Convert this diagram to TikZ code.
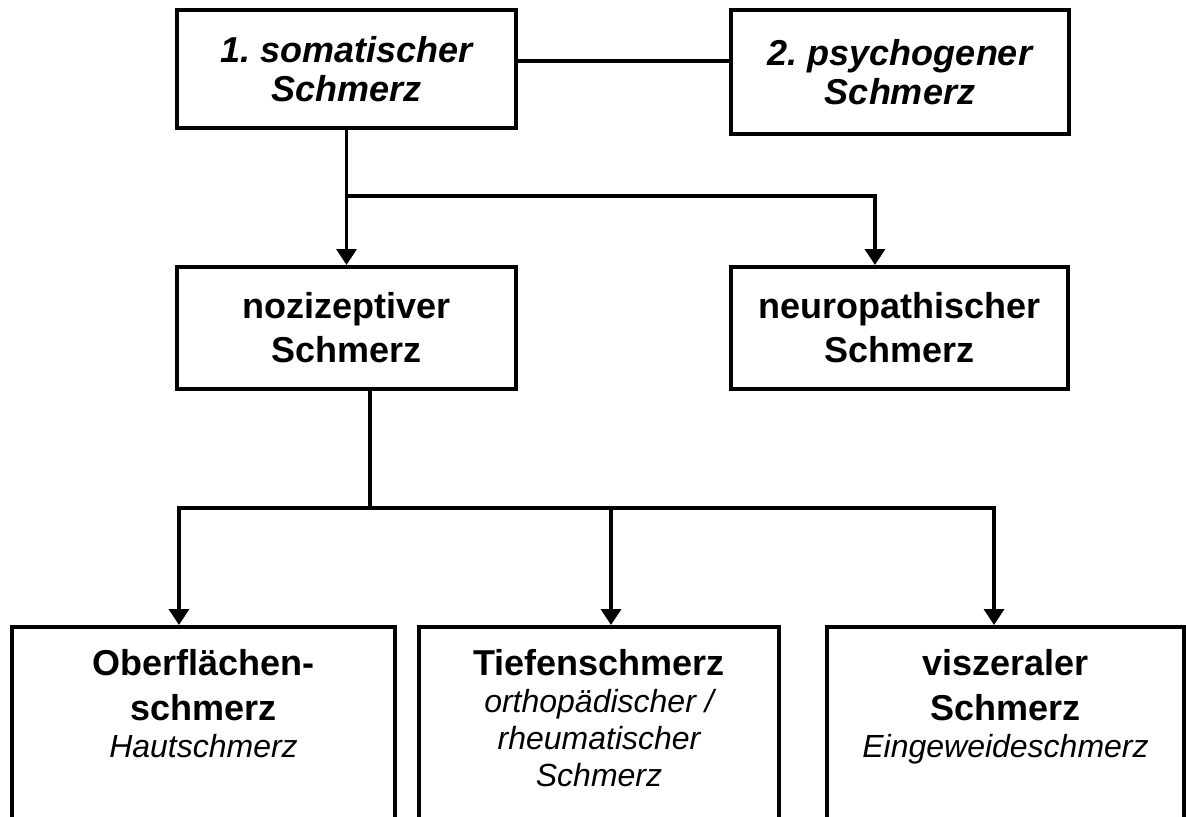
\documentclass[tikz,border=0pt]{standalone}
\usepackage{fontspec}
\setmainfont{Liberation Sans}
\usetikzlibrary{arrows.meta, positioning}
\frenchspacing

\newcommand{\untertext}[2]{\parbox[t][190pt][t]{250pt}{\centering
  \fontsize{27}{33.75}\selectfont\bfseries #1\par
  \fontsize{24}{27.75}\selectfont\mdseries\itshape #2\par}}

\begin{document}
\begin{tikzpicture}[x=0.75pt, y=-0.75pt, >={Triangle[length=12pt,width=15pt]},
    kasten/.style={draw, line width=3pt, align=center, inner sep=0pt,
        minimum width=254pt, minimum height=91.5pt,
        font=\fontsize{27}{33}\selectfont\bfseries},
    oben/.style={kasten, font=\fontsize{27}{29.25}\selectfont\bfseries\itshape},
    unten/.style={draw, line width=3pt, anchor=north, inner xsep=0pt, inner ysep=16.5pt},
    linie/.style={line width=2.6pt},
    pfeil/.style={linie, ->}]

    % Rahmen
    \useasboundingbox (0,0) rectangle (1186,817);
    \clip (0,0) rectangle (1186,817);

    % Schmerzarten
    \node[oben, minimum height=88.5pt] (soma) at (346.5,69) {1. somatischer\\Schmerz};
    \node[oben, minimum width=253.5pt, minimum height=93pt] (psych) at (900,72) {2. psychogener\\Schmerz};

    \node[kasten] (nozi) at (346.5,328) {nozizeptiver\\Schmerz};
    \node[kasten, minimum width=253pt] (neuro) at (899.5,328) {neuropathischer\\Schmerz};

    % untere Reihe, unten offen
    \node[unten, minimum width=287.25pt] (ober) at (203.5,625) {\untertext{Oberfl\"achen-\\schmerz}{Hautschmerz}};
    \node[unten, minimum width=270pt] (tief) at (599,625) {\untertext{Tiefenschmerz}{orthop\"adischer /\\rheumatischer\\Schmerz}};
    \node[unten, minimum width=267.75pt] (visz) at (1005.5,625) {\untertext{viszeraler\\Schmerz}{Eingeweideschmerz}};

    % Verbindungen
    \coordinate (mitte) at (620,61);
    \draw[linie] (soma.east |- mitte) -- (psych.west |- mitte);

    \coordinate (ast1) at (346.5,196);
    \draw[pfeil] (soma.south) -- (nozi.north);
    \draw[pfeil] (ast1) -| ([xshift=-18.4pt]neuro.north);

    \coordinate (ast2) at (370,508);
    \coordinate (zt) at ([xshift=9pt]tief.north);
    \draw[linie] (nozi.south -| ast2) -- (ast2);
    \draw[pfeil] (ast2) -| ([xshift=-18.4pt]ober.north);
    \draw[pfeil] (ast2) -| ([xshift=-8.6pt]visz.north);
    \draw[pfeil] (zt |- ast2) -- (zt);

\end{tikzpicture}
\end{document}
